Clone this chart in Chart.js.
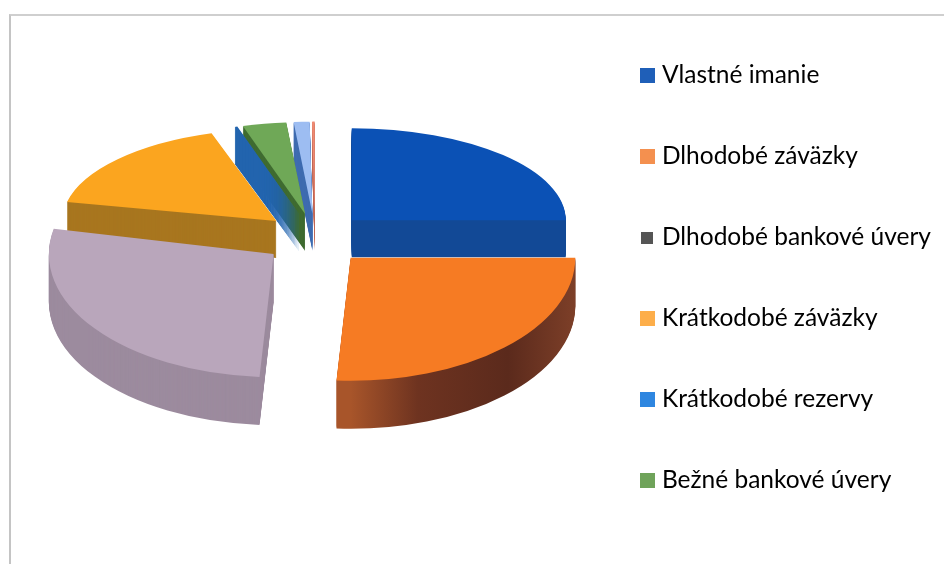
<!DOCTYPE html>
<html>
<head>
<meta charset="utf-8">
<script src="https://cdn.jsdelivr.net/npm/chart.js@4/dist/chart.umd.min.js"></script>
<style>
  body { margin: 0; background: #fff; }
  #wrap { position: relative; width: 944px; height: 564px; overflow: hidden; }
  #frame { position: absolute; left: 9px; top: 14px; width: 960px; height: 600px; border-top: 2px solid #cfcfcf; border-left: 2px solid #c4c4c4; }
  canvas { position: absolute; left: 0; top: 0; }
</style>
</head>
<body>
<div id="wrap">
  <div id="frame"></div>
  <canvas id="myChart" width="944" height="564"></canvas>
</div>
<script>
var categories = ['Vlastné imanie', 'Dlhodobé záväzky', 'Dlhodobé bankové úvery', 'Krátkodobé záväzky', 'Krátkodobé rezervy', 'Bežné bankové úvery', 'Ostatné', 'Časové rozlíšenie'];
var values = [25, 26, 27.3, 16.8, 0.2, 3.3, 1.2, 0.2];

var faceColors = ['#0b51b5', '#f67b23', '#b9a6bb', '#fba51f', '#2264ae', '#6fa857', '#9dbdf2', '#ee8a72'];
var wallColors = ['#134a96', '#6e3320', '#9c8b9e', '#a8761f', '#2264ae', '#3f6b30', '#3f6cb0', '#c06a58'];
var legendColors = ['#1f5fb8', '#f4904f', '#555555', '#fdae4a', '#2e86e0', '#6fa35a'];
var legendBoxSizes = [15, 15, 12, 15, 15, 15];

// pseudo 3d settings, the arcs themselves come from the doughnut controller
var pieX = 315, pieY = 236, explode = 52;
var backTilt = { kx: 1, ky: 0.43, depth: 37 };
var frontTilt = { kx: 1.05, ky: 0.575, depth: 48 };
var paintOrder = [0, 7, 6, 5, 4, 3, 2, 1];

function drawWith(ctx, arc, color) {
  var saved = arc.options;
  arc.options = Object.assign({}, saved, { backgroundColor: color, borderWidth: 0 });
  arc.draw(ctx);
  arc.options = saved;
}

function legendBox(color, size) {
  var c = document.createElement('canvas');
  c.width = size;
  c.height = size;
  var g = c.getContext('2d');
  g.fillStyle = color;
  g.fillRect(0, 0, size, size);
  return c;
}

var pie3d = {
  id: 'pie3d',
  beforeDatasetsDraw: function(chart) {
    var ctx = chart.ctx;
    var arcs = chart.getDatasetMeta(0).data;
    paintOrder.forEach(function(i) {
      var arc = arcs[i];
      var mid = (arc.startAngle + arc.endAngle) / 2;
      var tilt = Math.sin(mid) > 0 ? frontTilt : backTilt;
      var ox = pieX + Math.cos(mid) * explode;
      var oy = pieY + Math.sin(mid) * explode * tilt.ky;
      var wall = wallColors[i];
      if (i === 1) {
        wall = ctx.createLinearGradient(arc.x, 0, arc.x + arc.outerRadius, 0);
        wall.addColorStop(0, '#a8552a');
        wall.addColorStop(0.3, '#6e3320');
        wall.addColorStop(0.7, '#5b2a1c');
        wall.addColorStop(1, '#7d3f28');
      }
      for (var d = tilt.depth; d >= 0; d--) {
        ctx.save();
        ctx.translate(ox, oy + d);
        ctx.scale(tilt.kx, tilt.ky);
        ctx.translate(-arc.x, -arc.y);
        drawWith(ctx, arc, d === 0 ? faceColors[i] : wall);
        ctx.restore();
      }
    });
    return false;
  }
};

new Chart(document.getElementById('myChart'), {
  type: 'pie',
  data: {
    labels: categories,
    datasets: [{ data: values, backgroundColor: faceColors, borderWidth: 0, radius: 214 }]
  },
  plugins: [pie3d],
  options: {
    responsive: false,
    animation: false,
    layout: { padding: { top: 0, right: 3, bottom: 8, left: 0 } },
    plugins: {
      tooltip: { enabled: false },
      legend: {
        position: 'right',
        labels: {
          usePointStyle: true,
          pointStyleWidth: 4.5,
          boxHeight: 14,
          padding: 56.5,
          color: '#2b2b2b',
          font: { family: 'Lato', size: 24.5 },
          generateLabels: function() {
            return legendColors.map(function(c, i) {
              return { text: categories[i], fillStyle: c, strokeStyle: c, lineWidth: 0, index: i, pointStyle: legendBox(c, legendBoxSizes[i]) };
            });
          }
        }
      }
    }
  }
});
</script>
</body>
</html>
